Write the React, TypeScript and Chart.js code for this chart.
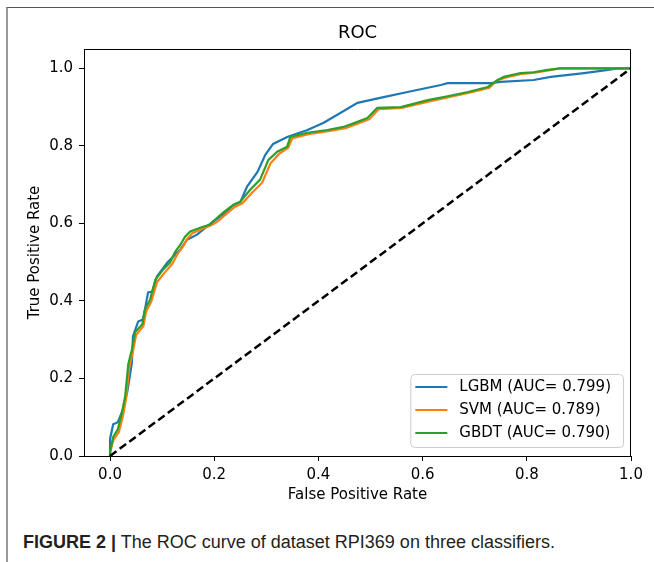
import React, { useEffect, useRef } from "react";
import { Chart, registerables } from "chart.js";

Chart.register(...registerables);

// ---------- data ----------
const chartTitle = "ROC";
const xAxisLabel = "False Positive Rate";
const yAxisLabel = "True Positive Rate";
const captionBold = "FIGURE 2 |";
const captionText = " The ROC curve of dataset RPI369 on three classifiers.";

const xTickValues = [0, 0.2, 0.4, 0.6, 0.8, 1.0];
const yTickValues = [0, 0.2, 0.4, 0.6, 0.8, 1.0];

const seriesLabels = ["LGBM (AUC= 0.799)", "SVM (AUC= 0.789)", "GBDT (AUC= 0.790)"];

const lgbmFpr = [0, 0, 0.006, 0.015, 0.025, 0.033, 0.038, 0.042, 0.044, 0.054, 0.063, 0.067, 0.073, 0.081, 0.09, 0.11, 0.135, 0.148, 0.167, 0.198, 0.217, 0.237, 0.25, 0.263, 0.283, 0.298, 0.313, 0.34, 0.379, 0.41, 0.442, 0.475, 0.525, 0.571, 0.635, 0.648, 0.731, 0.75, 0.813, 0.846, 0.91, 0.956, 0.975, 1.0];
const lgbmTpr = [0, 0.044, 0.082, 0.087, 0.121, 0.165, 0.206, 0.242, 0.309, 0.347, 0.352, 0.378, 0.422, 0.424, 0.463, 0.499, 0.533, 0.558, 0.571, 0.605, 0.623, 0.648, 0.655, 0.695, 0.733, 0.777, 0.805, 0.823, 0.841, 0.86, 0.885, 0.911, 0.926, 0.939, 0.957, 0.962, 0.962, 0.965, 0.97, 0.978, 0.988, 0.996, 1.0, 1.0];

const svmFpr = [0, 0, 0.006, 0.017, 0.025, 0.031, 0.037, 0.044, 0.05, 0.064, 0.069, 0.079, 0.09, 0.106, 0.119, 0.129, 0.14, 0.148, 0.158, 0.175, 0.194, 0.206, 0.221, 0.24, 0.254, 0.273, 0.292, 0.308, 0.325, 0.342, 0.35, 0.383, 0.419, 0.452, 0.479, 0.498, 0.516, 0.56, 0.613, 0.65, 0.69, 0.728, 0.742, 0.758, 0.79, 0.815, 0.842, 0.862, 1.0];
const svmTpr = [0, 0.008, 0.04, 0.062, 0.105, 0.15, 0.23, 0.27, 0.312, 0.335, 0.372, 0.398, 0.448, 0.475, 0.495, 0.52, 0.54, 0.56, 0.575, 0.585, 0.595, 0.605, 0.622, 0.643, 0.652, 0.68, 0.705, 0.755, 0.78, 0.795, 0.82, 0.831, 0.838, 0.846, 0.859, 0.869, 0.895, 0.898, 0.915, 0.926, 0.937, 0.95, 0.968, 0.976, 0.986, 0.989, 0.995, 1.0, 1.0];

const gbdtFpr = [0, 0, 0.006, 0.015, 0.023, 0.029, 0.035, 0.042, 0.048, 0.062, 0.067, 0.077, 0.087, 0.102, 0.115, 0.125, 0.135, 0.144, 0.154, 0.173, 0.192, 0.202, 0.217, 0.237, 0.25, 0.269, 0.288, 0.304, 0.321, 0.34, 0.346, 0.379, 0.417, 0.448, 0.475, 0.494, 0.513, 0.558, 0.61, 0.648, 0.687, 0.725, 0.744, 0.756, 0.788, 0.813, 0.84, 0.865, 1.0];
const gbdtTpr = [0, 0.01, 0.049, 0.069, 0.113, 0.154, 0.237, 0.275, 0.319, 0.34, 0.378, 0.404, 0.455, 0.481, 0.499, 0.527, 0.545, 0.566, 0.579, 0.589, 0.597, 0.61, 0.628, 0.648, 0.656, 0.687, 0.713, 0.764, 0.785, 0.798, 0.823, 0.834, 0.841, 0.849, 0.862, 0.872, 0.898, 0.9, 0.918, 0.928, 0.939, 0.952, 0.97, 0.978, 0.988, 0.99, 0.996, 1.0, 1.0];

const chanceFpr = [0, 1];
const chanceTpr = [0, 1];

// ---------- styling ----------
const FONT = "'DejaVu Sans', sans-serif";
const CANVAS_W = 654;
const CANVAS_H = 515;
const PLOT_LEFT = 84;
const PLOT_RIGHT = 631;
const PLOT_TOP = 49;
const PLOT_BOTTOM = 456;
const colors = ["#1f77b4", "#ff7f0e", "#2ca02c"];

const zip = (xs: number[], ys: number[]) => xs.map((x, i) => ({ x, y: ys[i] }));

const decorPlugin = {
  id: "decor",
  afterDatasetsDraw(chart: any) {
    const { ctx, chartArea: a } = chart;
    ctx.save();
    ctx.strokeStyle = "#000";
    ctx.lineWidth = 1;
    ctx.beginPath();
    const t = Math.round(a.top) + 0.5;
    const r = Math.round(a.right) - 0.5;
    ctx.moveTo(Math.round(a.left), t);
    ctx.lineTo(r, t);
    ctx.lineTo(r, Math.round(a.bottom));
    ctx.stroke();
    ctx.restore();
  },
  afterDraw(chart: any) {
    const { ctx, chartArea: a } = chart;
    ctx.save();
    // title
    ctx.fillStyle = "#000";
    ctx.font = `18px ${FONT}`;
    ctx.textAlign = "center";
    ctx.textBaseline = "middle";
    ctx.fillText(chartTitle, (a.left + a.right) / 2, 33);

    // legend
    const items = chart.data.datasets.filter((d: any) => d.inLegend);
    ctx.font = `15px ${FONT}`;
    const maxW = Math.max(...items.map((d: any) => ctx.measureText(d.label).width));
    const boxW = 49 + maxW + 12;
    const boxH = 73;
    const bx = a.right - 8 - boxW;
    const by = a.bottom - 9 - boxH;
    ctx.beginPath();
    (ctx as any).roundRect(bx + 0.5, by + 0.5, boxW, boxH, 4);
    ctx.fillStyle = "rgba(255,255,255,0.8)";
    ctx.fill();
    ctx.strokeStyle = "#cccccc";
    ctx.lineWidth = 1;
    ctx.stroke();
    items.forEach((d: any, i: number) => {
      const cy = by + 13 + i * 23;
      ctx.beginPath();
      ctx.strokeStyle = d.borderColor;
      ctx.lineWidth = 2;
      ctx.moveTo(bx + 5, cy);
      ctx.lineTo(bx + 37, cy);
      ctx.stroke();
      ctx.fillStyle = "#000";
      ctx.textAlign = "left";
      ctx.textBaseline = "middle";
      ctx.fillText(d.label, bx + 49, cy);
    });
    ctx.restore();
  },
};

export default function App() {
  const ref = useRef<HTMLCanvasElement | null>(null);

  useEffect(() => {
    document.body.style.margin = "0";
    if (!ref.current) return;
    const lineDs = (label: string, xs: number[], ys: number[], color: string, order: number) => ({
      label,
      data: zip(xs, ys),
      borderColor: color,
      backgroundColor: color,
      borderWidth: 2.2,
      pointRadius: 0,
      tension: 0,
      fill: false,
      order,
      inLegend: true,
    });
    const chart = new Chart(ref.current, {
      type: "line",
      data: {
        datasets: [
          lineDs(seriesLabels[0], lgbmFpr, lgbmTpr, colors[0], 4),
          lineDs(seriesLabels[1], svmFpr, svmTpr, colors[1], 3),
          lineDs(seriesLabels[2], gbdtFpr, gbdtTpr, colors[2], 2),
          {
            label: "chance",
            data: zip(chanceFpr, chanceTpr),
            borderColor: "#000",
            borderWidth: 2.5,
            borderDash: [8, 4],
            pointRadius: 0,
            fill: false,
            order: 1,
            inLegend: false,
          } as any,
        ],
      },
      options: {
        animation: false,
        responsive: false,
        devicePixelRatio: 1,
        layout: { padding: { left: 0, right: CANVAS_W - PLOT_RIGHT, top: PLOT_TOP, bottom: 0 } },
        plugins: {
          legend: { display: false },
          title: { display: false },
          tooltip: { enabled: false },
        },
        scales: {
          x: {
            type: "linear",
            min: -0.05,
            max: 1.0,
            afterBuildTicks: (s: any) => {
              s.ticks = xTickValues.map((v) => ({ value: v }));
            },
            afterFit: (s: any) => {
              s.height = CANVAS_H - PLOT_BOTTOM;
            },
            grid: { drawOnChartArea: false, drawTicks: true, tickLength: 5, tickColor: "#000", tickWidth: 1 },
            border: { display: true, color: "#000", width: 1 },
            ticks: {
              font: { family: FONT, size: 15 },
              color: "#000",
              padding: 5,
              maxRotation: 0,
              autoSkip: false,
              callback: (v: any) => Number(v).toFixed(1),
            },
            title: {
              display: true,
              text: xAxisLabel,
              font: { family: FONT, size: 15 },
              color: "#000",
              padding: { top: 0, bottom: 11 },
            },
          },
          y: {
            type: "linear",
            min: 0,
            max: 1.05,
            afterBuildTicks: (s: any) => {
              s.ticks = yTickValues.map((v) => ({ value: v }));
            },
            afterFit: (s: any) => {
              s.width = PLOT_LEFT;
            },
            grid: { drawOnChartArea: false, drawTicks: true, tickLength: 5, tickColor: "#000", tickWidth: 1 },
            border: { display: true, color: "#000", width: 1 },
            ticks: {
              font: { family: FONT, size: 15 },
              color: "#000",
              padding: 6,
              autoSkip: false,
              callback: (v: any) => Number(v).toFixed(1),
            },
            title: {
              display: true,
              text: yAxisLabel,
              font: { family: FONT, size: 15 },
              color: "#000",
              padding: { top: 26, bottom: 0 },
            },
          },
        },
      } as any,
      plugins: [decorPlugin],
    });
    return () => chart.destroy();
  }, []);

  return (
    <div style={{ position: "relative", width: CANVAS_W, height: 562, overflow: "hidden", background: "#fff" }}>
      <div
        style={{
          position: "absolute",
          left: 6,
          top: 7,
          width: 660,
          height: 600,
          borderTop: "1.5px solid #555",
          borderLeft: "2px solid #999",
          boxSizing: "border-box",
        }}
      />
      <canvas
        ref={ref}
        width={CANVAS_W}
        height={CANVAS_H}
        style={{ position: "absolute", left: 0, top: 0, width: CANVAS_W, height: CANVAS_H }}
      />
      <div
        style={{
          position: "absolute",
          left: 23,
          top: 533,
          fontFamily: "'Liberation Sans', Arial, sans-serif",
          fontSize: 18,
          lineHeight: "18px",
          color: "#231f20",
          whiteSpace: "nowrap",
        }}
      >
        <b>{captionBold}</b>
        {captionText}
      </div>
    </div>
  );
}
